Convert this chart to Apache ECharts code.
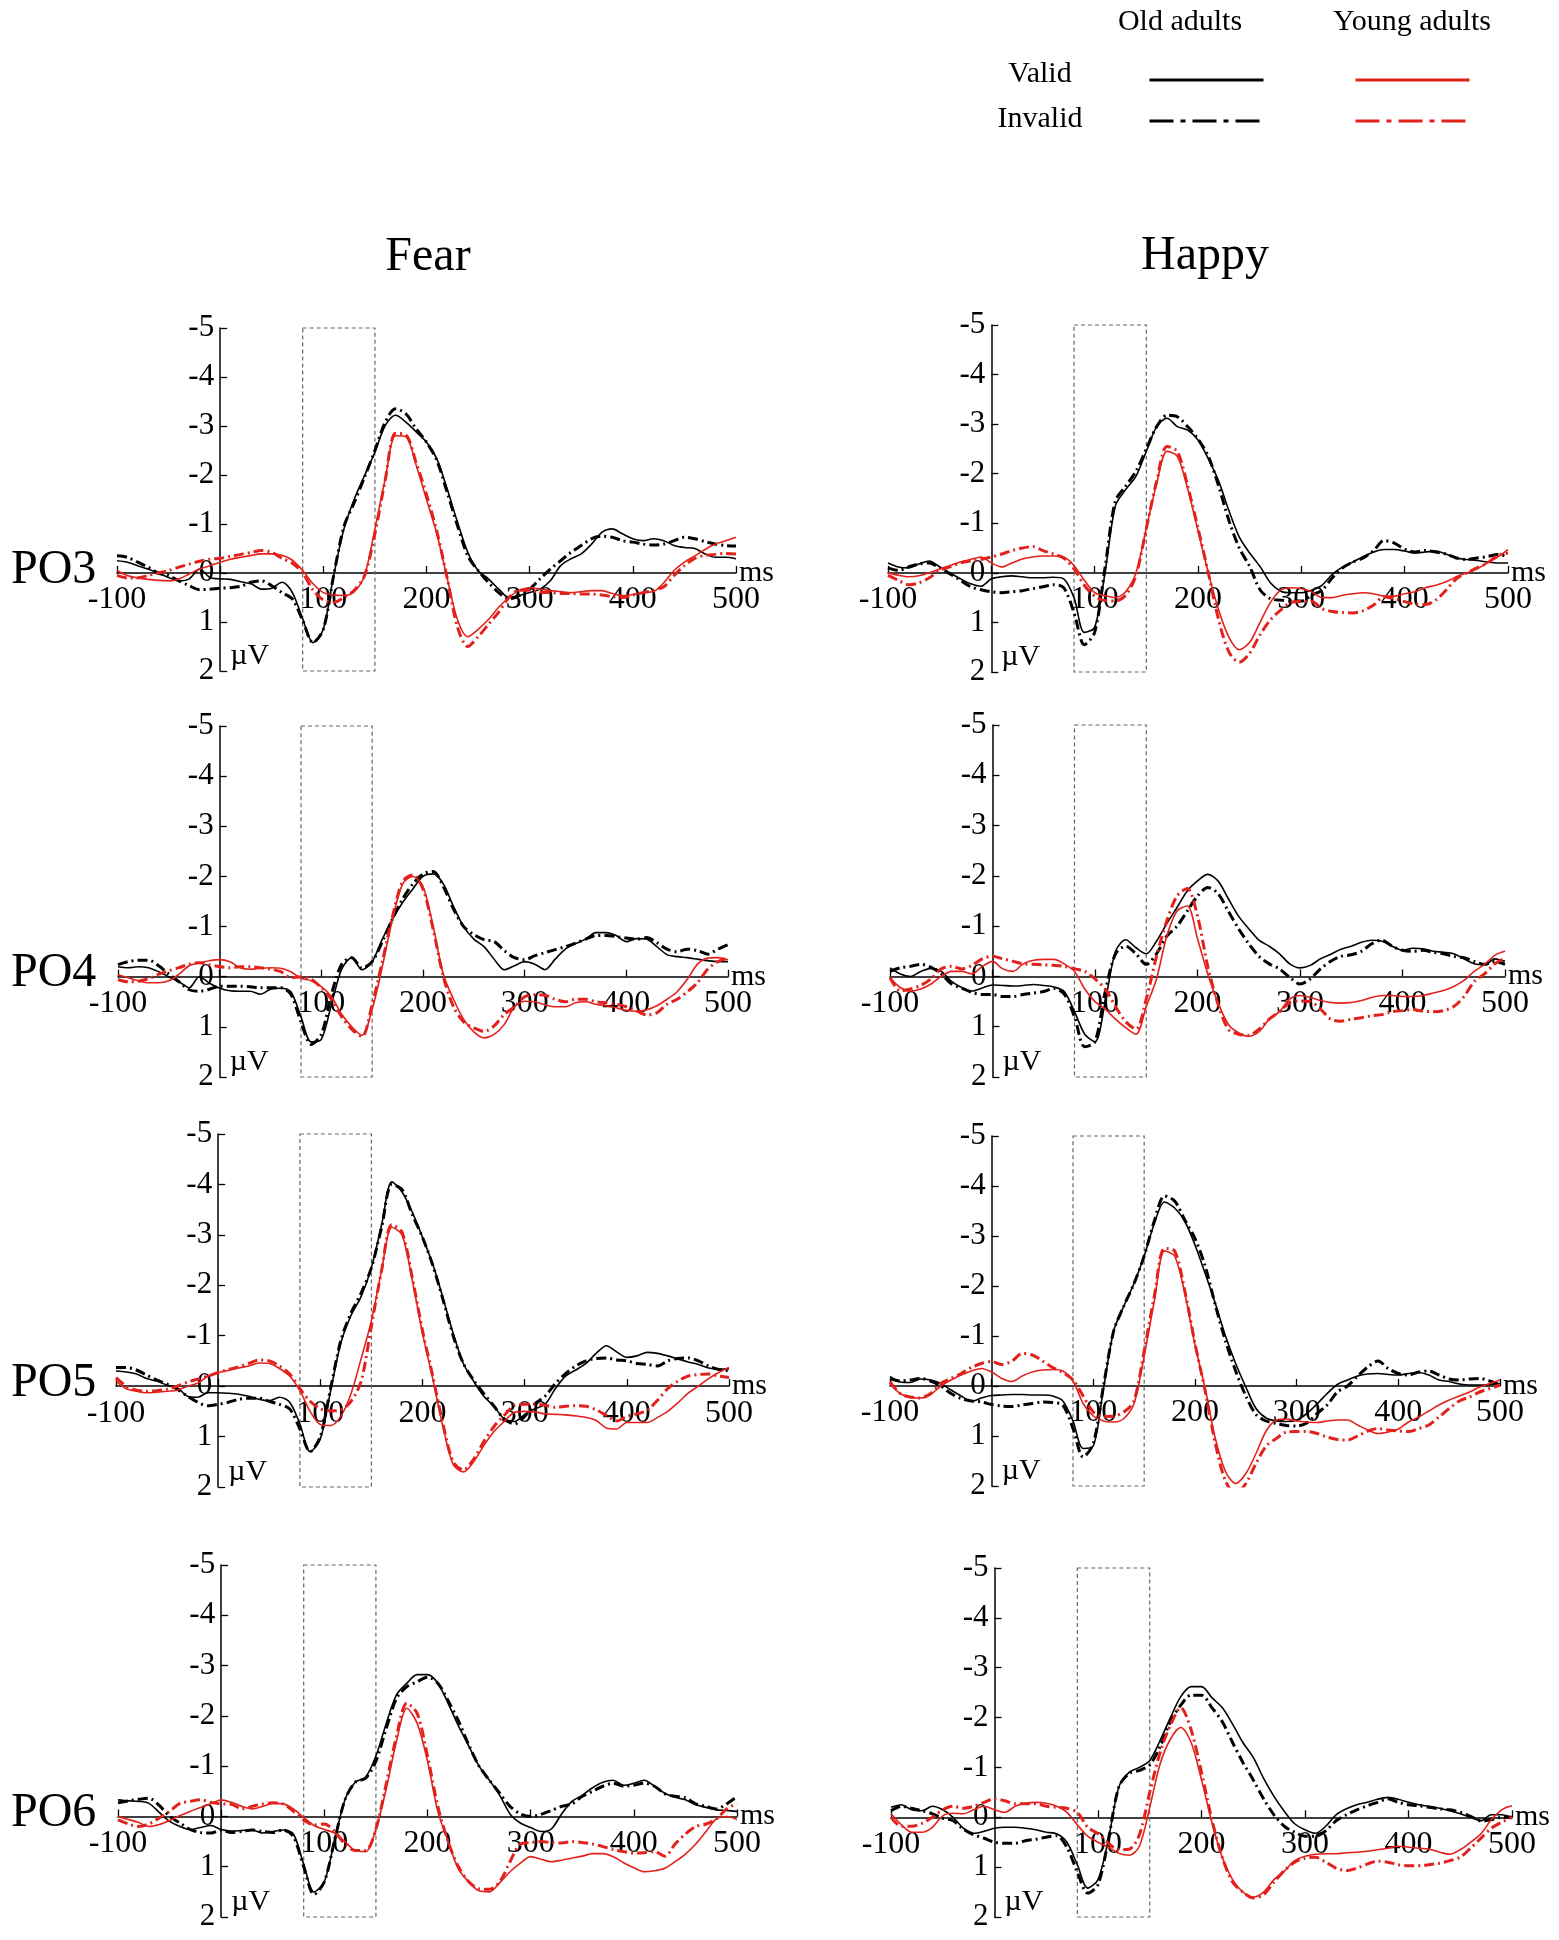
<!DOCTYPE html>
<html>
<head>
<meta charset="utf-8">
<title>ERP waveforms PO3-PO6, Fear / Happy</title>
<script src="https://cdn.jsdelivr.net/npm/echarts@6/dist/echarts.min.js"></script>
<style>
html, body { margin: 0; padding: 0; background: #fff; }
#chart { width: 1559px; height: 1940px; }
</style>
</head>
<body>
<div id="chart"></div>
<script>
// sample times in ms, one every 10 ms
var times = [-100, -90, -80, -70, -60, -50, -40, -30, -20, -10,
	0, 10, 20, 30, 40, 50, 60, 70, 80, 90,
	100, 110, 120, 130, 140, 150, 160, 170, 180, 190,
	200, 210, 220, 230, 240, 250, 260, 270, 280, 290,
	300, 310, 320, 330, 340, 350, 360, 370, 380, 390,
	400, 410, 420, 430, 440, 450, 460, 470, 480, 490,
	500];
var timeTicks = [-100, 100, 200, 300, 400, 500];
var voltTicks = [-5, -4, -3, -2, -1, 0, 1, 2];
var analysisWindow = [80, 150];
var emotions = ['Fear', 'Happy'];
var electrodes = ['PO3', 'PO4', 'PO5', 'PO6'];
var groups = ['Old adults', 'Young adults'];
var conditions = ['Valid', 'Invalid'];
var seriesNames = ['Old Valid', 'Old Invalid', 'Young Valid', 'Young Invalid'];

// amplitudes in µV (negative plotted upward)
var fearPO3_oldValid = [-0.25,-0.22,-0.15,-0.08,0,0.09,0.16,0.12,-0.08,0.09,
	0.12,0.13,0.18,0.22,0.33,0.31,0.19,0.4,0.94,1.42,
	1.15,0.05,-0.9,-1.51,-1.99,-2.47,-3.01,-3.22,-3.08,-2.88,
	-2.67,-2.33,-1.72,-1.04,-0.42,-0.05,0.12,0.33,0.5,0.46,
	0.4,0.33,0.16,-0.15,-0.29,-0.39,-0.59,-0.83,-0.9,-0.8,
	-0.7,-0.66,-0.7,-0.66,-0.56,-0.52,-0.5,-0.39,-0.32,-0.32,
	-0.29];
var fearPO3_oldInvalid = [-0.35,-0.32,-0.22,-0.12,0,0.05,0.16,0.26,0.34,0.33,
	0.31,0.3,0.27,0.19,0.16,0.26,0.4,0.53,0.97,1.42,
	1.15,0.05,-0.95,-1.44,-1.96,-2.5,-3.08,-3.35,-3.25,-2.94,
	-2.67,-2.3,-1.65,-0.97,-0.35,-0.05,0.19,0.4,0.53,0.46,
	0.33,0.12,-0.08,-0.25,-0.42,-0.56,-0.7,-0.75,-0.73,-0.66,
	-0.63,-0.59,-0.57,-0.59,-0.66,-0.73,-0.7,-0.64,-0.59,-0.56,
	-0.55];
var fearPO3_youngValid = [-0.05,0.05,0.1,0.13,0.15,0.16,0.12,0.02,-0.08,-0.15,
	-0.22,-0.28,-0.32,-0.36,-0.39,-0.39,-0.36,-0.26,-0.05,0.22,
	0.4,0.45,0.46,0.38,0.05,-0.9,-1.92,-2.8,-2.78,-2.2,
	-1.5,-0.8,0.1,0.95,1.3,1.15,0.95,0.7,0.5,0.35,
	0.3,0.33,0.36,0.38,0.4,0.38,0.36,0.36,0.42,0.46,
	0.44,0.4,0.38,0.2,-0.05,-0.22,-0.35,-0.48,-0.59,-0.66,
	-0.73];
var fearPO3_youngInvalid = [0.05,0.1,0.1,0.05,0,-0.05,-0.12,-0.18,-0.24,-0.28,
	-0.3,-0.34,-0.38,-0.42,-0.46,-0.42,-0.3,-0.2,0,0.35,
	0.55,0.6,0.5,0.35,0.05,-0.8,-1.9,-2.85,-2.82,-2.25,
	-1.6,-0.85,0.1,1.1,1.5,1.3,1.05,0.8,0.5,0.35,
	0.35,0.4,0.4,0.42,0.42,0.43,0.43,0.45,0.48,0.5,
	0.45,0.4,0.35,0.28,0.05,-0.15,-0.3,-0.36,-0.38,-0.4,
	-0.39];

var happyPO3_oldValid = [-0.2,-0.12,-0.1,-0.18,-0.24,-0.12,0,0.12,0.22,0.27,
	0.12,0.08,0.06,0.08,0.1,0.1,0.09,0.12,0.5,1.2,
	1.1,0,-1.35,-1.68,-1.95,-2.45,-2.95,-3.12,-2.95,-2.88,
	-2.68,-2.3,-1.85,-1.25,-0.72,-0.4,-0.13,0.2,0.37,0.4,
	0.4,0.35,0.25,0.03,-0.12,-0.22,-0.33,-0.42,-0.47,-0.47,
	-0.44,-0.4,-0.42,-0.44,-0.38,-0.3,-0.27,-0.25,-0.22,-0.2,
	-0.2];
var happyPO3_oldInvalid = [-0.1,-0.05,-0.12,-0.18,-0.2,-0.1,0.02,0.15,0.28,0.34,
	0.38,0.4,0.38,0.36,0.32,0.28,0.24,0.3,0.8,1.45,
	1.2,-0.1,-1.45,-1.75,-2.05,-2.5,-2.95,-3.18,-3.15,-2.95,
	-2.7,-2.35,-1.75,-1.05,-0.5,-0.13,0.34,0.52,0.55,0.57,
	0.57,0.45,0.35,0.1,-0.1,-0.22,-0.3,-0.45,-0.65,-0.6,
	-0.48,-0.42,-0.45,-0.42,-0.38,-0.3,-0.27,-0.3,-0.33,-0.37,
	-0.33];
var happyPO3_youngValid = [0,0.05,0.08,0.06,0,-0.08,-0.15,-0.22,-0.27,-0.32,
	-0.2,-0.12,-0.2,-0.28,-0.32,-0.34,-0.34,-0.32,-0.15,0.15,
	0.4,0.46,0.5,0.38,0,-0.9,-1.8,-2.45,-2.35,-1.7,
	-0.85,0,0.75,1.3,1.55,1.4,1.0,0.6,0.35,0.3,
	0.32,0.38,0.5,0.5,0.45,0.42,0.4,0.42,0.47,0.47,
	0.42,0.38,0.3,0.25,0.18,0.08,0,-0.08,-0.2,-0.32,
	-0.47];
var happyPO3_youngInvalid = [0.05,0.15,0.24,0.2,0.1,-0.05,-0.12,-0.2,-0.24,-0.27,
	-0.32,-0.38,-0.45,-0.5,-0.53,-0.45,-0.38,-0.3,-0.08,0.25,
	0.47,0.56,0.57,0.45,0.05,-0.9,-1.85,-2.55,-2.45,-1.75,
	-0.9,0,0.95,1.6,1.8,1.62,1.25,0.95,0.75,0.6,
	0.58,0.58,0.72,0.78,0.8,0.81,0.76,0.65,0.48,0.52,
	0.58,0.63,0.64,0.55,0.35,0.12,0,-0.1,-0.2,-0.35,
	-0.4];

var fearPO4_oldValid = [-0.2,-0.18,-0.2,-0.18,-0.1,0,0.1,0.22,0,0.13,
	0.23,0.28,0.29,0.29,0.35,0.25,0.23,0.3,0.8,1.3,
	1.25,0.55,-0.15,-0.38,-0.14,-0.3,-0.75,-1.15,-1.48,-1.75,
	-2.0,-2.05,-1.85,-1.4,-1.0,-0.75,-0.6,-0.35,-0.14,-0.22,
	-0.3,-0.25,-0.14,-0.35,-0.55,-0.66,-0.75,-0.88,-0.88,-0.82,
	-0.7,-0.76,-0.75,-0.6,-0.44,-0.4,-0.38,-0.35,-0.32,-0.3,
	-0.3];
var fearPO4_oldInvalid = [-0.24,-0.3,-0.33,-0.33,-0.22,-0.05,0.1,0.26,0.29,0.25,
	0.19,0.19,0.19,0.2,0.22,0.22,0.22,0.35,0.9,1.35,
	1.15,0.35,-0.25,-0.38,-0.17,-0.3,-0.7,-1.15,-1.55,-1.85,
	-2.05,-2.1,-1.8,-1.35,-1.0,-0.84,-0.74,-0.7,-0.52,-0.38,
	-0.34,-0.42,-0.48,-0.54,-0.6,-0.67,-0.75,-0.82,-0.82,-0.8,
	-0.77,-0.75,-0.78,-0.68,-0.55,-0.5,-0.55,-0.52,-0.45,-0.55,
	-0.64];
var fearPO4_youngValid = [-0.04,0.02,0.08,0.12,0.12,0.08,-0.05,-0.22,-0.28,-0.32,
	-0.34,-0.3,-0.18,-0.15,-0.17,-0.18,-0.17,-0.1,0.03,0.08,
	0.2,0.4,0.75,1.0,1.17,0.65,-0.2,-1.15,-1.85,-2.0,
	-1.8,-1.0,-0.05,0.45,0.85,1.1,1.22,1.15,0.95,0.6,
	0.49,0.5,0.56,0.6,0.6,0.52,0.5,0.55,0.58,0.62,
	0.67,0.69,0.66,0.58,0.45,0.3,0.05,-0.25,-0.37,-0.38,
	-0.34];
var fearPO4_youngInvalid = [0.06,0.1,0.09,0.04,-0.05,-0.12,-0.18,-0.25,-0.28,-0.24,
	-0.2,-0.18,-0.2,-0.2,-0.18,-0.15,-0.1,0.02,0,0.05,
	0.22,0.45,0.8,1.05,1.19,0.55,-0.3,-1.2,-1.9,-2.03,
	-1.75,-0.95,0,0.6,0.9,1.02,1.09,0.98,0.75,0.6,
	0.4,0.36,0.37,0.45,0.5,0.45,0.45,0.5,0.52,0.55,
	0.6,0.68,0.76,0.72,0.55,0.45,0.3,0.12,-0.15,-0.3,
	-0.37];

var happyPO4_oldValid = [-0.17,-0.05,0,-0.1,-0.16,-0.1,0.1,0.22,0.29,0.23,
	0.17,0.18,0.19,0.18,0.16,0.18,0.21,0.3,0.7,1.15,
	1.3,0.5,-0.5,-0.73,-0.57,-0.45,-0.7,-1.05,-1.37,-1.7,
	-1.9,-2.03,-1.9,-1.55,-1.2,-0.95,-0.72,-0.6,-0.45,-0.25,
	-0.17,-0.22,-0.35,-0.44,-0.54,-0.6,-0.68,-0.72,-0.7,-0.6,
	-0.52,-0.56,-0.55,-0.5,-0.48,-0.45,-0.35,-0.25,-0.23,-0.35,
	-0.3];
var happyPO4_oldInvalid = [-0.1,-0.17,-0.2,-0.24,-0.18,-0.05,0.15,0.23,0.32,0.36,
	0.36,0.4,0.4,0.36,0.33,0.3,0.24,0.35,0.8,1.4,
	1.3,0.3,-0.45,-0.6,-0.45,-0.24,-0.45,-0.8,-1.0,-1.3,
	-1.6,-1.77,-1.65,-1.3,-0.95,-0.65,-0.4,-0.25,-0.15,0.02,
	0.15,0.05,-0.15,-0.3,-0.4,-0.43,-0.5,-0.65,-0.72,-0.6,
	-0.52,-0.5,-0.52,-0.48,-0.45,-0.4,-0.37,-0.3,-0.24,-0.3,
	-0.24];
var happyPO4_youngValid = [0.02,0.22,0.29,0.25,0.15,0,-0.1,-0.1,-0.05,-0.2,
	-0.3,-0.15,-0.1,-0.25,-0.32,-0.34,-0.34,-0.25,-0.1,0.25,
	0.5,0.65,0.85,1.02,1.15,0.6,0.05,-0.8,-1.3,-1.4,
	-0.75,-0.05,0.52,0.95,1.12,1.19,1.1,0.85,0.7,0.45,
	0.38,0.42,0.48,0.52,0.53,0.52,0.48,0.42,0.38,0.38,
	0.4,0.4,0.38,0.33,0.28,0.2,0.08,-0.1,-0.24,-0.42,
	-0.5];
var happyPO4_youngInvalid = [0.02,0.29,0.25,0.18,0.05,-0.15,-0.2,-0.15,-0.22,-0.35,
	-0.4,-0.35,-0.3,-0.25,-0.24,-0.23,-0.22,-0.2,-0.15,-0.1,
	0.05,0.25,0.6,0.9,1.05,0.45,-0.4,-1.1,-1.6,-1.75,
	-1.2,-0.2,0.55,1.05,1.15,1.17,1.05,0.85,0.7,0.52,
	0.49,0.5,0.65,0.85,0.89,0.85,0.82,0.78,0.76,0.7,
	0.68,0.66,0.69,0.7,0.68,0.6,0.4,0.1,-0.05,-0.25,
	-0.37];

var fearPO5_oldValid = [-0.3,-0.28,-0.24,-0.15,-0.1,-0.02,0.03,0.2,0.22,0.13,
	0.13,0.14,0.16,0.2,0.26,0.29,0.22,0.32,0.75,1.3,
	1.05,0.1,-0.85,-1.4,-1.78,-2.35,-3.2,-4.05,-3.85,-3.45,
	-2.95,-2.42,-1.75,-1.05,-0.45,-0.1,0.2,0.4,0.65,0.7,
	0.56,0.45,0.36,0.05,-0.2,-0.32,-0.45,-0.65,-0.8,-0.68,
	-0.57,-0.6,-0.67,-0.65,-0.6,-0.54,-0.48,-0.43,-0.36,-0.34,
	-0.34];
var fearPO5_oldInvalid = [-0.37,-0.37,-0.32,-0.22,-0.12,-0.04,0.06,0.2,0.32,0.39,
	0.36,0.32,0.26,0.24,0.24,0.3,0.36,0.45,0.85,1.3,
	1.0,0.05,-0.9,-1.45,-1.85,-2.35,-3.15,-4.0,-3.9,-3.4,
	-2.95,-2.4,-1.72,-1.0,-0.45,-0.12,0.15,0.4,0.65,0.75,
	0.6,0.35,0.2,-0.05,-0.25,-0.4,-0.5,-0.55,-0.56,-0.52,
	-0.5,-0.45,-0.43,-0.4,-0.5,-0.55,-0.56,-0.5,-0.4,-0.33,
	-0.3];
var fearPO5_youngValid = [-0.1,0.05,0.1,0.13,0.12,0.1,0.08,0,-0.06,-0.2,
	-0.27,-0.31,-0.36,-0.4,-0.46,-0.45,-0.35,-0.2,0.09,0.5,
	0.76,0.78,0.6,0.15,-0.55,-1.3,-2.3,-3.15,-3.0,-2.1,
	-1.05,-0.15,0.8,1.55,1.7,1.5,1.18,0.9,0.7,0.52,
	0.5,0.51,0.55,0.56,0.57,0.59,0.62,0.68,0.83,0.85,
	0.72,0.72,0.72,0.62,0.5,0.33,0.14,0,-0.15,-0.27,
	-0.37];
var fearPO5_youngInvalid = [-0.17,0,0.08,0.1,0.09,0.06,0,-0.08,-0.14,-0.2,
	-0.27,-0.33,-0.38,-0.45,-0.52,-0.5,-0.4,-0.24,0.05,0.3,
	0.45,0.49,0.47,0.3,-0.1,-1.2,-2.3,-3.2,-3.05,-2.15,
	-1.1,-0.2,0.75,1.5,1.66,1.45,1.1,0.8,0.58,0.38,
	0.36,0.36,0.38,0.42,0.4,0.39,0.4,0.47,0.58,0.69,
	0.6,0.55,0.48,0.28,0.05,-0.1,-0.2,-0.23,-0.24,-0.2,
	-0.17];

var happyPO5_oldValid = [-0.19,-0.08,-0.07,-0.14,-0.12,-0.05,0.08,0.2,0.31,0.24,
	0.19,0.18,0.17,0.17,0.18,0.18,0.2,0.3,0.7,1.25,
	1.2,0.05,-1.1,-1.6,-2.05,-2.6,-3.25,-3.68,-3.56,-3.29,
	-2.82,-2.25,-1.65,-1.0,-0.45,0.02,0.45,0.64,0.7,0.71,
	0.68,0.55,0.36,0.15,-0.03,-0.12,-0.2,-0.24,-0.25,-0.23,
	-0.22,-0.25,-0.27,-0.22,-0.12,-0.09,-0.04,-0.02,-0.02,-0.03,
	-0.05];
var happyPO5_oldInvalid = [-0.15,-0.1,-0.12,-0.15,-0.1,0,0.15,0.25,0.3,0.32,
	0.37,0.4,0.41,0.38,0.35,0.32,0.33,0.38,0.85,1.42,
	1.15,0,-1.1,-1.6,-2.05,-2.6,-3.3,-3.8,-3.7,-3.32,
	-2.95,-2.4,-1.62,-0.9,-0.3,0.2,0.57,0.7,0.75,0.79,
	0.8,0.74,0.55,0.38,0.12,0,-0.2,-0.38,-0.5,-0.35,
	-0.25,-0.22,-0.28,-0.3,-0.22,-0.14,-0.12,-0.14,-0.15,-0.1,
	-0.02];
var happyPO5_youngValid = [-0.05,0.15,0.23,0.24,0.17,0,-0.12,-0.22,-0.3,-0.35,
	-0.28,-0.15,-0.09,-0.2,-0.28,-0.32,-0.33,-0.3,-0.1,0.35,
	0.6,0.7,0.72,0.65,0.35,-0.6,-1.7,-2.7,-2.6,-1.85,
	-0.82,0.05,1.05,1.71,1.95,1.75,1.35,0.9,0.68,0.66,
	0.7,0.72,0.73,0.7,0.68,0.68,0.78,0.88,0.95,0.92,
	0.86,0.72,0.62,0.5,0.38,0.28,0.2,0.12,0.02,-0.05,
	-0.12];
var happyPO5_youngInvalid = [-0.08,0.15,0.22,0.24,0.15,-0.05,-0.15,-0.25,-0.37,-0.45,
	-0.49,-0.43,-0.5,-0.65,-0.62,-0.5,-0.37,-0.27,-0.12,0.2,
	0.52,0.61,0.6,0.52,0.3,-0.7,-1.8,-2.75,-2.7,-1.9,
	-0.85,0.1,1.15,1.9,2.15,1.95,1.55,1.2,1.05,0.92,
	0.91,0.91,0.95,1.02,1.07,1.08,1.0,0.9,0.85,0.88,
	0.9,0.91,0.85,0.78,0.62,0.45,0.3,0.22,0.12,0.05,
	-0.02];

var fearPO6_oldValid = [-0.33,-0.31,-0.3,-0.26,-0.08,0.1,0.2,0.26,0.22,0.18,
	0.26,0.29,0.28,0.27,0.33,0.3,0.27,0.35,0.95,1.5,
	1.3,0.47,-0.33,-0.68,-0.78,-1.2,-1.85,-2.42,-2.65,-2.82,
	-2.82,-2.65,-2.25,-1.8,-1.4,-1.0,-0.72,-0.42,-0.05,0.13,
	0.22,0.3,0.25,-0.05,-0.3,-0.42,-0.57,-0.68,-0.72,-0.62,
	-0.66,-0.72,-0.6,-0.46,-0.38,-0.33,-0.23,-0.18,-0.13,-0.12,
	-0.1];
var fearPO6_oldInvalid = [-0.27,-0.31,-0.34,-0.36,-0.22,0,0.13,0.26,0.32,0.33,
	0.27,0.32,0.3,0.27,0.3,0.32,0.27,0.4,1.0,1.55,
	1.3,0.47,-0.33,-0.68,-0.76,-1.1,-1.75,-2.35,-2.58,-2.68,
	-2.77,-2.65,-2.3,-1.9,-1.42,-1.0,-0.72,-0.46,-0.2,-0.05,
	0,-0.04,-0.12,-0.2,-0.25,-0.4,-0.5,-0.6,-0.66,-0.6,
	-0.62,-0.66,-0.6,-0.45,-0.4,-0.37,-0.25,-0.2,-0.15,-0.25,
	-0.4];
var fearPO6_youngValid = [0,0.06,0.12,0.2,0.16,0.08,-0.02,-0.1,-0.18,-0.25,
	-0.33,-0.28,-0.2,-0.15,-0.2,-0.26,-0.25,-0.15,0.02,0.18,
	0.26,0.33,0.5,0.68,0.7,0.25,-0.55,-1.5,-2.15,-1.85,
	-1.1,-0.1,0.5,1.05,1.3,1.48,1.5,1.32,1.1,0.93,
	0.8,0.85,0.9,0.87,0.83,0.79,0.74,0.74,0.8,0.92,
	1.02,1.1,1.08,1.03,0.9,0.75,0.55,0.3,0.05,0,
	0.06];
var fearPO6_youngInvalid = [0.07,0.15,0.2,0.15,0.03,-0.1,-0.26,-0.3,-0.33,-0.28,
	-0.25,-0.24,-0.15,-0.2,-0.25,-0.27,-0.25,-0.1,0.07,0.17,
	0.15,0.3,0.55,0.68,0.68,0.25,-0.65,-1.6,-2.25,-2.05,
	-1.2,-0.2,0.5,1.0,1.3,1.44,1.45,1.3,0.9,0.55,
	0.52,0.5,0.52,0.53,0.5,0.52,0.55,0.6,0.66,0.7,
	0.73,0.72,0.7,0.79,0.55,0.35,0.2,0.15,0.05,-0.15,
	-0.26];

var happyPO6_oldValid = [-0.2,-0.25,-0.15,-0.13,-0.22,-0.15,0,0.22,0.32,0.28,
	0.22,0.2,0.2,0.22,0.25,0.3,0.33,0.5,0.95,1.42,
	1.25,0.45,-0.6,-0.9,-1.0,-1.14,-1.54,-2.0,-2.42,-2.62,
	-2.62,-2.4,-2.2,-1.87,-1.5,-1.2,-0.78,-0.42,-0.12,0.13,
	0.25,0.32,0.18,-0.05,-0.17,-0.25,-0.3,-0.36,-0.4,-0.36,
	-0.3,-0.25,-0.22,-0.18,-0.13,-0.07,0,0.07,-0.05,-0.05,
	0];
var happyPO6_oldInvalid = [-0.13,-0.22,-0.18,-0.13,-0.07,0.02,0.07,0.24,0.35,0.42,
	0.5,0.52,0.52,0.47,0.44,0.4,0.37,0.6,1.1,1.52,
	1.35,0.45,-0.6,-0.88,-0.94,-1.05,-1.42,-1.92,-2.25,-2.45,
	-2.45,-2.2,-1.92,-1.5,-1.1,-0.75,-0.37,-0.05,0.18,0.3,
	0.38,0.38,0.27,0.07,-0.05,-0.15,-0.23,-0.3,-0.37,-0.3,
	-0.25,-0.23,-0.2,-0.17,-0.15,-0.1,-0.02,0.07,0.05,0,
	0];
var happyPO6_youngValid = [-0.07,0.15,0.3,0.3,0.2,-0.03,-0.08,-0.07,-0.15,-0.22,
	-0.15,-0.1,-0.22,-0.28,-0.3,-0.28,-0.22,-0.1,0.15,0.38,
	0.5,0.6,0.72,0.76,0.58,-0.2,-1.07,-1.57,-1.8,-1.5,
	-0.75,0.1,0.8,1.25,1.5,1.6,1.5,1.25,1.08,0.87,
	0.78,0.74,0.73,0.73,0.71,0.7,0.68,0.65,0.62,0.58,
	0.6,0.62,0.64,0.7,0.74,0.65,0.5,0.33,0.05,-0.15,
	-0.23];
var happyPO6_youngInvalid = [0,0.18,0.18,0.12,0,-0.15,-0.22,-0.18,-0.22,-0.3,
	-0.37,-0.33,-0.27,-0.27,-0.27,-0.22,-0.2,-0.18,-0.1,0.2,
	0.33,0.52,0.65,0.64,0.35,-0.5,-1.3,-1.85,-2.2,-1.75,
	-0.9,0.05,0.8,1.3,1.5,1.62,1.55,1.3,1.07,0.9,
	0.82,0.8,0.9,1.02,1.07,1.02,0.94,0.88,0.9,0.95,
	0.97,0.97,0.95,0.92,0.87,0.8,0.62,0.42,0.22,0.1,
	0];

// waveforms per panel, in series order
var waves = {
	'Fear-PO3': [fearPO3_oldValid, fearPO3_oldInvalid, fearPO3_youngValid, fearPO3_youngInvalid],
	'Happy-PO3': [happyPO3_oldValid, happyPO3_oldInvalid, happyPO3_youngValid, happyPO3_youngInvalid],
	'Fear-PO4': [fearPO4_oldValid, fearPO4_oldInvalid, fearPO4_youngValid, fearPO4_youngInvalid],
	'Happy-PO4': [happyPO4_oldValid, happyPO4_oldInvalid, happyPO4_youngValid, happyPO4_youngInvalid],
	'Fear-PO5': [fearPO5_oldValid, fearPO5_oldInvalid, fearPO5_youngValid, fearPO5_youngInvalid],
	'Happy-PO5': [happyPO5_oldValid, happyPO5_oldInvalid, happyPO5_youngValid, happyPO5_youngInvalid],
	'Fear-PO6': [fearPO6_oldValid, fearPO6_oldInvalid, fearPO6_youngValid, fearPO6_youngInvalid],
	'Happy-PO6': [happyPO6_oldValid, happyPO6_oldInvalid, happyPO6_youngValid, happyPO6_youngInvalid]
};

// plot boxes (pixels) for each panel
var panelBoxes = {
	'Fear-PO3': { left: 117, top: 328, width: 619, height: 343 },
	'Happy-PO3': { left: 888, top: 325, width: 620, height: 347 },
	'Fear-PO4': { left: 118, top: 726, width: 610, height: 351 },
	'Happy-PO4': { left: 890, top: 725, width: 615, height: 352 },
	'Fear-PO5': { left: 116, top: 1134, width: 613, height: 353 },
	'Happy-PO5': { left: 890, top: 1136, width: 610, height: 350 },
	'Fear-PO6': { left: 118, top: 1565, width: 619, height: 352 },
	'Happy-PO6': { left: 891, top: 1568, width: 621, height: 349 }
};

var serif = '"Liberation Serif", "DejaVu Serif", "Times New Roman", serif';
var red = '#e3211c';
var dashDot = [10, 4, 2, 4];
var lineStyles = [
	{ color: '#000', width: 1.6, type: 'solid' },
	{ color: '#000', width: 3, type: dashDot },
	{ color: red, width: 1.6, type: 'solid' },
	{ color: red, width: 3, type: dashDot }
];

function textEl(str, x, y, size, align) {
	return {
		type: 'text', x: x, y: y, silent: true,
		style: {
			text: str, font: size + 'px ' + serif, fill: '#000',
			align: align, verticalAlign: 'middle', textAlign: align, textVerticalAlign: 'middle'
		}
	};
}

function renderChart() {
	var grids = [], xAxes = [], yAxes = [], series = [], graphics = [];
	var tMin = times[0], tMax = times[times.length - 1];
	var vMin = voltTicks[0], vMax = voltTicks[voltTicks.length - 1];
	var idx = 0;
	electrodes.forEach(function(el) {
		emotions.forEach(function(em) {
			var key = em + '-' + el;
			var box = panelBoxes[key];
			// axes cross at 0 ms / 0 µV: shift them from the grid edges
			var xShift = box.height * vMax / (vMax - vMin);
			var yShift = box.width * (0 - tMin) / (tMax - tMin);
			grids.push({
				left: box.left, top: box.top, width: box.width, height: box.height,
				containLabel: false, outerBoundsMode: 'none'
			});
			xAxes.push({
				gridIndex: idx,
				type: 'value',
				position: 'bottom',
				offset: -xShift,
				min: tMin,
				max: tMax,
				interval: 100,
				name: 'ms',
				nameLocation: 'end',
				nameGap: 3,
				nameMoveOverlap: false,
				nameTextStyle: { fontFamily: serif, fontSize: 30, color: '#000', align: 'left', verticalAlign: 'middle', padding: [10, 0, 0, 0] },
				axisLine: { onZero: false, lineStyle: { color: '#000', width: 1.5 } },
				axisTick: { inside: true, length: 7, lineStyle: { color: '#000', width: 1.3 } },
				axisLabel: {
					fontFamily: serif, fontSize: 32, color: '#000', margin: 11,
					formatter: function(v) { return timeTicks.indexOf(v) >= 0 ? String(v) : ''; }
				},
				splitLine: { show: false }
			});
			yAxes.push({
				gridIndex: idx,
				type: 'value',
				position: 'left',
				offset: -yShift,
				inverse: true,
				min: vMin,
				max: vMax,
				interval: 1,
				name: 'µV',
				nameLocation: 'end',
				nameGap: 0,
				nameMoveOverlap: false,
				nameTextStyle: { fontFamily: serif, fontSize: 30, color: '#000', align: 'left', verticalAlign: 'bottom', padding: [0, 0, 0, 10] },
				axisLine: { onZero: false, lineStyle: { color: '#000', width: 1.5 } },
				axisTick: { inside: true, length: 7, lineStyle: { color: '#000', width: 1.3 } },
				axisLabel: { fontFamily: serif, fontSize: 31, color: '#000', margin: 6 },
				splitLine: { show: false }
			});
			waves[key].forEach(function(values, k) {
				var s = {
					type: 'line',
					name: seriesNames[k],
					xAxisIndex: idx,
					yAxisIndex: idx,
					data: times.map(function(t, i) { return [t, values[i]]; }),
					symbol: 'none',
					smooth: 0.3,
					color: lineStyles[k].color,
					lineStyle: lineStyles[k],
					z: 3 + k,
					silent: true
				};
				if (k === 0) {
					s.markArea = {
						silent: true,
						label: { show: false },
						itemStyle: { color: 'rgba(0,0,0,0)', borderColor: '#666', borderWidth: 1.2, borderType: [4, 3] },
						data: [[
							{ xAxis: analysisWindow[0], yAxis: vMin },
							{ xAxis: analysisWindow[1], yAxis: vMax }
						]]
					};
				}
				series.push(s);
			});
			// electrode name on the left of each row
			if (em === 'Fear') {
				graphics.push(textEl(el, 11, box.top + box.height - xShift - 3, 48, 'left'));
			}
			idx++;
		});
	});

	// column titles
	graphics.push(textEl(emotions[0], 428, 257, 48, 'center'));
	graphics.push(textEl(emotions[1], 1205, 256, 48, 'center'));
	// key headings
	graphics.push(textEl(groups[0], 1180, 22, 30, 'center'));
	graphics.push(textEl(groups[1], 1412, 22, 30, 'center'));
	graphics.push(textEl(conditions[0], 1040, 74, 30, 'center'));
	graphics.push(textEl(conditions[1], 1040, 119, 30, 'center'));

	// one legend per cell of the 2x2 key
	var legendPos = [
		{ left: 1148, top: 75 },
		{ left: 1148, top: 116 },
		{ left: 1354, top: 75 },
		{ left: 1354, top: 116 }
	];
	var legends = seriesNames.map(function(name, k) {
		return {
			data: [name],
			left: legendPos[k].left,
			top: legendPos[k].top,
			padding: 0,
			itemGap: 0,
			itemWidth: 114,
			itemHeight: 10,
			selectedMode: false,
			formatter: function() { return ''; },
			itemStyle: { opacity: 0 },
			lineStyle: { width: 3, type: k % 2 === 1 ? [24, 7, 5, 7] : 'solid' }
		};
	});

	var option = {
		backgroundColor: '#fff',
		animation: false,
		grid: grids,
		xAxis: xAxes,
		yAxis: yAxes,
		legend: legends,
		graphic: graphics,
		series: series
	};
	var chart = echarts.init(document.getElementById('chart'));
	chart.setOption(option);
}

renderChart();
</script>
</body>
</html>
